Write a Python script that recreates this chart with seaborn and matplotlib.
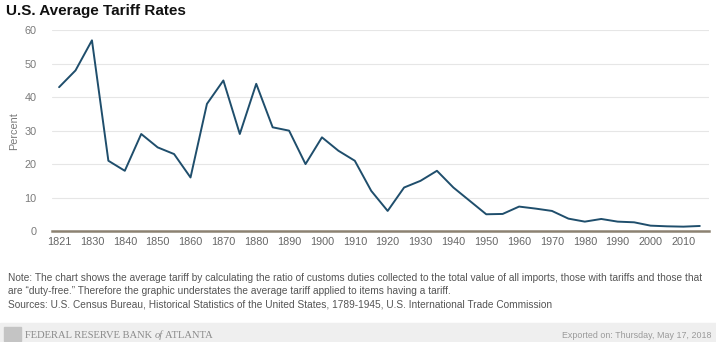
import matplotlib
matplotlib.use("Agg")
import matplotlib.pyplot as plt
import seaborn as sns
import pandas as pd

years = [1821, 1825, 1830, 1835, 1840, 1845, 1850, 1855, 1860, 1865,
         1870, 1875, 1880, 1885, 1890, 1895, 1900, 1905, 1910, 1915,
         1920, 1925, 1930, 1935, 1940, 1945, 1950, 1955, 1960, 1965,
         1970, 1975, 1980, 1985, 1990, 1995, 2000, 2005, 2010, 2015]
tariff = [43, 48, 57, 21, 18, 29, 25, 23, 16, 38,
          45, 29, 44, 31, 30, 20, 28, 24, 21, 12,
          6, 13, 15, 18, 13, 9, 5.0, 5.1, 7.3, 6.7,
          6.0, 3.7, 2.8, 3.6, 2.8, 2.6, 1.6, 1.4, 1.3, 1.5]
yticks = [0, 10, 20, 30, 40, 50, 60]

title = "U.S. Average Tariff Rates"
ylabel = "Percent"
note = ("Note: The chart shows the average tariff by calculating the ratio of customs duties collected to the total value of all imports, those with tariffs and those that\n"
        "are \u201cduty-free.\u201d Therefore the graphic understates the average tariff applied to items having a tariff.\n"
        "Sources: U.S. Census Bureau, Historical Statistics of the United States, 1789-1945, U.S. International Trade Commission")
brand_parts = ["FEDERAL RESERVE BANK ", "of", " ATLANTA"]
exported = "Exported on: Thursday, May 17, 2018"

sns.set_theme(style="white")
plt.rcParams['font.family'] = ['Liberation Sans', 'DejaVu Sans']

df = pd.DataFrame({"year": [str(y) for y in years], "tariff": tariff})

fig = plt.figure(figsize=(7.16, 3.42), dpi=100)
ax = fig.add_axes([0.0722, 1 - 231 / 342, 0.990 - 0.0722, (231 - 30.3) / 342])

sns.lineplot(data=df, x="year", y="tariff", ax=ax, color="#1f4e6c",
             linewidth=1.4, sort=False, clip_on=False)

ax.set_ylim(0, 60)
ax.set_xlim(-0.45, len(years) - 1 + 0.55)
ax.set_yticks(yticks)
ax.set_yticklabels([str(v) for v in yticks])
ax.set_xticks(list(range(0, len(years), 2)))
ax.set_xticklabels([str(y) for y in years[::2]])

ax.grid(axis="y", color="#e6e6e6", linewidth=0.8)
ax.grid(axis="x", visible=False)
for s in ["top", "right", "left"]:
    ax.spines[s].set_visible(False)
ax.spines["bottom"].set_color("#8c8272")
ax.spines["bottom"].set_linewidth(1.8)
ax.spines["bottom"].set_zorder(3)

ax.tick_params(axis="x", colors="#c5d3e0", length=4, width=0.8, direction="out",
               labelcolor="#666666", labelsize=7.8, pad=0.5)
ax.tick_params(axis="y", length=0, labelcolor="#7a7a7a", labelsize=7.8, pad=11)
ax.set_xlabel("")
ax.set_ylabel(ylabel, color="#7a7a7a", fontsize=7.8, labelpad=4)

fig.text(0.008, 0.968, title, fontsize=11, fontweight="bold", color="#111111",
         ha="left", va="center")

fig.text(0.011, 1 - 273 / 342, note, fontsize=7.3, color="#555555", ha="left",
         va="top", linespacing=1.38)

# footer band
band = plt.Rectangle((0, 0), 1, 19 / 342, transform=fig.transFigure,
                     color="#efefef", zorder=0)
fig.patches.append(band)
fig.patches.append(plt.Rectangle((0.005, 0.003), 0.024, 14 / 342, transform=fig.transFigure,
                                 color="#c4c4c4", zorder=1))

renderer = fig.canvas.get_renderer()
xpos = 25 / 716
for i, part in enumerate(brand_parts):
    t = fig.text(xpos, 1.5 / 342, part, fontsize=7.6,
                 family=["Liberation Serif", "DejaVu Serif"],
                 style="italic" if i == 1 else "normal",
                 color="#8a8a8a", ha="left", va="bottom")
    bb = t.get_window_extent(renderer)
    xpos += bb.width / fig.bbox.width

fig.text(0.994, 1.5 / 342, exported, fontsize=6.4, color="#9a9a9a",
         ha="right", va="bottom")

fig.savefig("out.png", dpi=100)
